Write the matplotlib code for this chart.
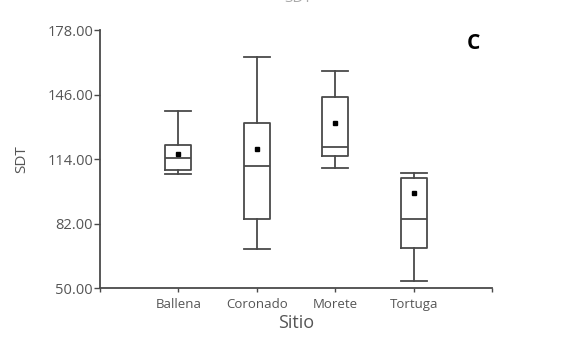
import matplotlib.pyplot as plt
from matplotlib.ticker import FormatStrFormatter

plt.rcParams['font.family'] = ['Open Sans', 'DejaVu Sans']

# values
sitios = ["Ballena", "Coronado", "Morete", "Tortuga"]
whisker_low = [106.4, 69.5, 109.7, 53.6]
q1 = [108.6, 84.3, 115.3, 69.7]
median = [114.4, 110.7, 120.1, 84.3]
q3 = [121.0, 132.0, 144.6, 104.8]
whisker_high = [137.8, 164.5, 157.8, 107.2]
means = [116.7, 119.0, 132.0, 97.3]
y_ticks = [50, 82, 114, 146, 178]

line_col = "#4a4a4a"
text_col = "#555555"

stats = []
for i, name in enumerate(sitios):
    stats.append({
        "label": name,
        "whislo": whisker_low[i],
        "q1": q1[i],
        "med": median[i],
        "q3": q3[i],
        "whishi": whisker_high[i],
        "mean": means[i],
        "fliers": [],
    })

fig = plt.figure(figsize=(5.75, 3.39), dpi=100)
ax = fig.add_axes([0.1739, 0.1504, 0.6818, 0.7611])

lp = dict(color=line_col, linewidth=1.3)
ax.bxp(stats, positions=[1, 2, 3, 4], widths=0.33, capwidths=0.33,
       showmeans=True, showfliers=False,
       boxprops=lp, whiskerprops=lp, capprops=lp, medianprops=lp,
       meanprops=dict(marker="s", markersize=3.2, markerfacecolor="black",
                      markeredgecolor="black"))

ax.set_xlim(0, 5)
ax.set_ylim(50, 178)
ax.set_xticks([0, 1, 2, 3, 4, 5])
ax.set_xticklabels([""] + sitios + [""])
ax.set_yticks(y_ticks)
ax.yaxis.set_major_formatter(FormatStrFormatter("%.2f"))

for side in ["top", "right"]:
    ax.spines[side].set_visible(False)
for side in ["left", "bottom"]:
    ax.spines[side].set_color(line_col)
    ax.spines[side].set_linewidth(1.3)

ax.tick_params(axis="both", direction="out", length=4, width=1,
               color=line_col, labelcolor=text_col, pad=2)
ax.tick_params(axis="y", labelsize=10.5, pad=1)
ax.tick_params(axis="x", labelsize=9.5, length=3, pad=4)

ax.set_xlabel("Sitio", fontsize=13, color=text_col, labelpad=2)
ax.set_ylabel("SDT", fontsize=11, color=text_col, labelpad=13)

fig.text(0.824, 0.872, "C", fontsize=15, fontweight="bold", color="black",
         ha="center", va="center")
# title that is mostly cut off at the top edge, as in the reference
fig.text(0.518, 1.004, "SDT", fontsize=11, color="#aaaaaa",
         ha="center", va="center")

fig.savefig("out.png", dpi=100)
